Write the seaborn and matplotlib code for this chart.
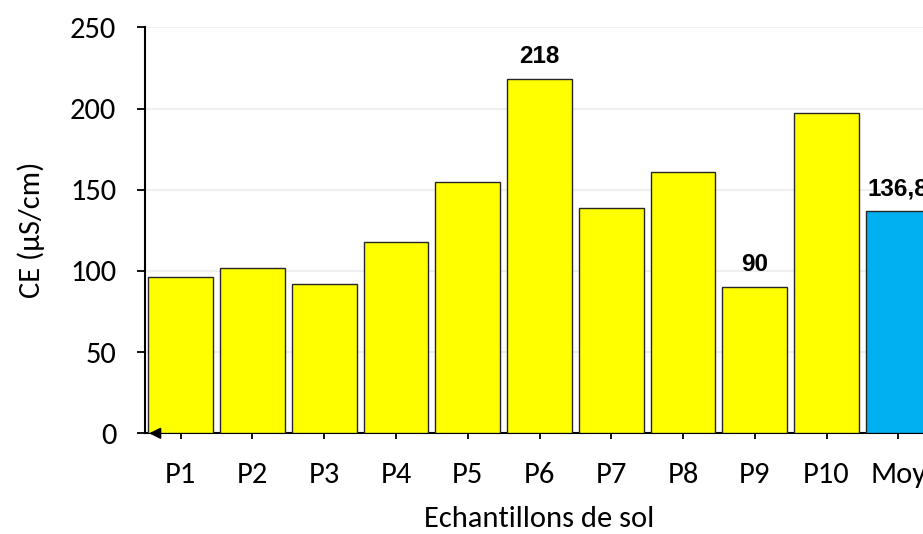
import matplotlib
matplotlib.use("Agg")
import matplotlib.pyplot as plt
from matplotlib import font_manager
import seaborn as sns
import pandas as pd

categories = ["P1", "P2", "P3", "P4", "P5", "P6", "P7", "P8", "P9", "P10", "Moy"]
values = [96, 102, 92, 118, 155, 218, 139, 161, 90, 197, 136.8]
bar_labels = ["", "", "", "", "", "218", "", "", "90", "", "136,8"]
colors = ["#FFFF00"] * 10 + ["#00B0F0"]
yticks = [0, 50, 100, 150, 200, 250]

installed = {f.name for f in font_manager.fontManager.ttflist}
if "Carlito" in installed:
    main_font, main_size = "Carlito", 22
else:
    main_font, main_size = "Lato", 19
if "Liberation Sans Narrow" in installed:
    lab_font, lab_size = "Liberation Sans Narrow", 19.5
else:
    lab_font, lab_size = "Liberation Sans", 17.5

sns.set_theme(style="white")
plt.rcParams["font.family"] = [main_font, "DejaVu Sans"]

df = pd.DataFrame({"cat": categories, "val": values})

fig = plt.figure(figsize=(9.23, 5.34), dpi=100)
ax = fig.add_axes([144.8 / 923, 100.7 / 534, 789.4 / 923, 406 / 534])

sns.barplot(data=df, x="cat", y="val", hue="cat", palette=colors, legend=False,
            width=0.9, edgecolor="#262626", linewidth=1.0, saturation=1, ax=ax, zorder=3)

ax.set_ylim(0, 250)
ax.set_xlim(-0.5, len(categories) - 0.5)
ax.set_yticks(yticks)
ax.set_yticklabels([str(t) for t in yticks])
ax.yaxis.grid(True, color="#efefef", linewidth=1.5, zorder=0)
ax.xaxis.grid(False)
ax.set_axisbelow(True)

for s in ["top", "right"]:
    ax.spines[s].set_visible(False)
ax.spines["left"].set_color("black")
ax.spines["left"].set_linewidth(1.5)
ax.spines["bottom"].set_color("black")
ax.spines["bottom"].set_linewidth(1.5)

ax.tick_params(axis="y", which="major", left=True, length=5.5, width=1.3, color="black",
               labelsize=main_size, pad=15, labelcolor="black")
ax.tick_params(axis="x", which="major", bottom=True, length=4.5, width=1.3, color="black",
               labelsize=main_size, pad=16, labelcolor="black")

ax.set_xlabel("Echantillons de sol", fontsize=main_size, labelpad=13, color="black")
ax.set_ylabel("CE (µS/cm)", fontsize=main_size, labelpad=18, color="black")

for i, (v, lab) in enumerate(zip(values, bar_labels)):
    if lab:
        ax.annotate(lab, xy=(i, v), xytext=(0, 8), textcoords="offset points",
                    ha="center", va="bottom", fontsize=lab_size, fontweight="bold",
                    family=[lab_font, "DejaVu Sans"], color="black")

# small arrow head at the origin
ax.annotate("", xy=(0.002, 0), xycoords="axes fraction",
            xytext=(0.022, 0), textcoords="axes fraction",
            arrowprops=dict(arrowstyle="-|>", color="black", lw=1.2, mutation_scale=17))

fig.savefig("out.png", dpi=100)
